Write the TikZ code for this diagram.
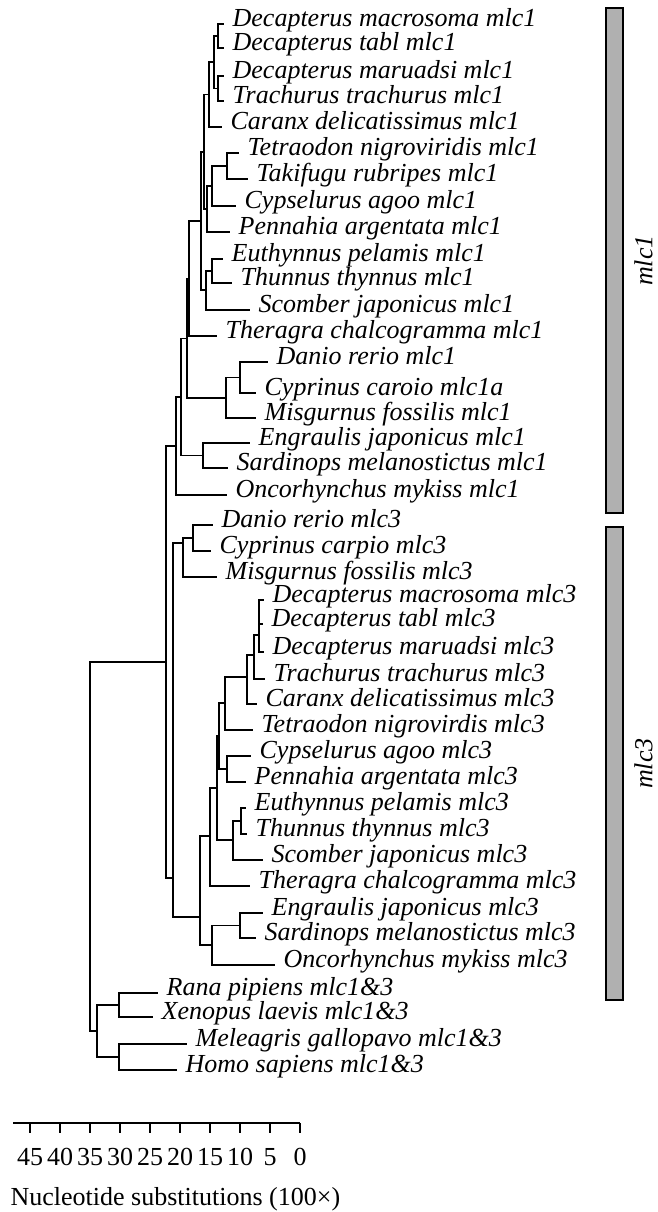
\documentclass[tikz,border=0pt]{standalone}
\usepackage{fontspec}
\setmainfont{Liberation Serif}
\usetikzlibrary{positioning}

\begin{document}
\begin{tikzpicture}[
    x=1pt, y=-1pt,
    line width=1.3pt,
    leaf/.style={anchor=west, inner xsep=8pt, inner ysep=0pt,
                 text height=0.56em, text depth=0pt,
                 font=\fontsize{26}{28}\selectfont\itshape},
    gbar/.style={draw, line width=1.6pt, fill=black!31,
                 minimum width=17pt, inner sep=0pt},
    grp/.style={rotate=90, inner sep=0pt,
                font=\fontsize{26}{28}\selectfont\itshape},
    axl/.style={anchor=base, inner sep=0pt,
                font=\fontsize{26}{28}\selectfont},
  ]
  \useasboundingbox (0,0) rectangle (657,1212);

  % ============ mlc1 leaves ============
  \node[leaf] (m1dmac) at (224,24)  {Decapterus macrosoma mlc1};
  \node[leaf] (m1dtab) at (224,48)  {Decapterus tabl mlc1};
  \node[leaf] (m1dmar) at (224,76)  {Decapterus maruadsi mlc1};
  \node[leaf] (m1ttr)  at (224,101) {Trachurus trachurus mlc1};
  \node[leaf] (m1car)  at (222,127) {Caranx delicatissimus mlc1};
  \node[leaf] (m1tet)  at (239,153) {Tetraodon nigroviridis mlc1};
  \node[leaf] (m1tak)  at (248,179) {Takifugu rubripes mlc1};
  \node[leaf] (m1cyp)  at (236,206) {Cypselurus agoo mlc1};
  \node[leaf] (m1pen)  at (230,232) {Pennahia argentata mlc1};
  \node[leaf] (m1eut)  at (223,259) {Euthynnus pelamis mlc1};
  \node[leaf] (m1thu)  at (232,283) {Thunnus thynnus mlc1};
  \node[leaf] (m1sco)  at (250,310) {Scomber japonicus mlc1};
  \node[leaf] (m1the)  at (217,336) {Theragra chalcogramma mlc1};
  \node[leaf] (m1dan)  at (268,362) {Danio rerio mlc1};
  \node[leaf] (m1cpr)  at (256,393) {Cyprinus caroio mlc1a};
  \node[leaf] (m1mis)  at (256,418) {Misgurnus fossilis mlc1};
  \node[leaf] (m1eng)  at (250,443) {Engraulis japonicus mlc1};
  \node[leaf] (m1sar)  at (228,468) {Sardinops melanostictus mlc1};
  \node[leaf] (m1onc)  at (227,495) {Oncorhynchus mykiss mlc1};

  % ============ mlc3 leaves ============
  \node[leaf] (m3dan)  at (213,525) {Danio rerio mlc3};
  \node[leaf] (m3cpr)  at (211,551) {Cyprinus carpio mlc3};
  \node[leaf] (m3mis)  at (217,577) {Misgurnus fossilis mlc3};
  \node[leaf] (m3dmac) at (264,600) {Decapterus macrosoma mlc3};
  \node[leaf] (m3dtab) at (263,624) {Decapterus tabl mlc3};
  \node[leaf] (m3dmar) at (264,652) {Decapterus maruadsi mlc3};
  \node[leaf] (m3ttr)  at (265,679) {Trachurus trachurus mlc3};
  \node[leaf] (m3car)  at (257,704) {Caranx delicatissimus mlc3};
  \node[leaf] (m3tet)  at (253,730) {Tetraodon nigrovirdis mlc3};
  \node[leaf] (m3cyp)  at (251,756) {Cypselurus agoo mlc3};
  \node[leaf] (m3pen)  at (246,782) {Pennahia argentata mlc3};
  \node[leaf] (m3eut)  at (246,808) {Euthynnus pelamis mlc3};
  \node[leaf] (m3thu)  at (247,834) {Thunnus thynnus mlc3};
  \node[leaf] (m3sco)  at (263,860) {Scomber japonicus mlc3};
  \node[leaf] (m3the)  at (250,886) {Theragra chalcogramma mlc3};
  \node[leaf] (m3eng)  at (263,913) {Engraulis japonicus mlc3};
  \node[leaf] (m3sar)  at (256,938) {Sardinops melanostictus mlc3};
  \node[leaf] (m3onc)  at (275,965) {Oncorhynchus mykiss mlc3};

  % ============ tetrapod leaves ============
  \node[leaf] (rana) at (158,993)  {Rana pipiens mlc1\&3};
  \node[leaf] (xeno) at (153,1017) {Xenopus laevis mlc1\&3};
  \node[leaf] (mele) at (187,1044) {Meleagris gallopavo mlc1\&3};
  \node[leaf] (homo) at (177,1070) {Homo sapiens mlc1\&3};

  % ============ inner nodes ============
  \coordinate (m1n1)  at (218,36);
  \coordinate (m1n2)  at (218,88.5);
  \coordinate (m1n3)  at (214,62);
  \coordinate (m1n4)  at (209,94.5);
  \coordinate (m1n5)  at (227,166);
  \coordinate (m1n6)  at (212,186);
  \coordinate (m1n7)  at (207,209);
  \coordinate (m1n8)  at (204,152);
  \coordinate (m1n9)  at (212,271);
  \coordinate (m1n10) at (206,290);
  \coordinate (m1n11) at (201,221);
  \coordinate (m1n12) at (189,278.5);
  \coordinate (m1n13) at (240,377.5);
  \coordinate (m1n14) at (226,398);
  \coordinate (m1n15) at (187,338.5);
  \coordinate (m1n16) at (203,455.5);
  \coordinate (m1n17) at (181,397);
  \coordinate (m1n18) at (176,446);

  \coordinate (m3n1)  at (193,538);
  \coordinate (m3n2)  at (183,543);
  \coordinate (m3n3)  at (259,635);
  \coordinate (m3n4)  at (254,655);
  \coordinate (m3n5)  at (247,677);
  \coordinate (m3n6)  at (225,703);
  \coordinate (m3n7)  at (227,769);
  \coordinate (m3n8)  at (219,736);
  \coordinate (m3n9)  at (241,821);
  \coordinate (m3n10) at (233,840);
  \coordinate (m3n11) at (217,788);
  \coordinate (m3n12) at (210,836);
  \coordinate (m3n13) at (240,925.5);
  \coordinate (m3n14) at (212,945);
  \coordinate (m3n15) at (200,917);
  \coordinate (m3root) at (173,878);

  \coordinate (fish) at (166,662);
  \coordinate (tet1) at (119,1005);
  \coordinate (tet2) at (119,1057);
  \coordinate (tet)  at (97,1031);
  \coordinate (root) at (90,846);

  % ======== BRANCHES: mlc1 ========
  \draw (m1n1) |- (m1dmac) (m1n1) |- (m1dtab);
  \draw (m1n2) |- (m1dmar) (m1n2) |- (m1ttr);
  \draw (m1n3) |- (m1n1) (m1n3) |- (m1n2);
  \draw (m1n4) |- (m1n3) (m1n4) |- (m1car);
  \draw (m1n5) |- (m1tet) (m1n5) |- (m1tak);
  \draw (m1n6) |- (m1n5) (m1n6) |- (m1cyp);
  \draw (m1n7) |- (m1n6) (m1n7) |- (m1pen);
  \draw (m1n8) |- (m1n4) (m1n8) |- (m1n7);
  \draw (m1n9) |- (m1eut) (m1n9) |- (m1thu);
  \draw (m1n10) |- (m1n9) (m1n10) |- (m1sco);
  \draw (m1n11) |- (m1n8) (m1n11) |- (m1n10);
  \draw (m1n12) |- (m1n11) (m1n12) |- (m1the);
  \draw (m1n13) |- (m1dan) (m1n13) |- (m1cpr);
  \draw (m1n14) |- (m1n13) (m1n14) |- (m1mis);
  \draw (m1n15) |- (m1n12) (m1n15) |- (m1n14);
  \draw (m1n16) |- (m1eng) (m1n16) |- (m1sar);
  \draw (m1n17) |- (m1n15) (m1n17) |- (m1n16);
  \draw (m1n18) |- (m1n17) (m1n18) |- (m1onc);

  % ======== BRANCHES: mlc3 ========
  \draw (m3n1) |- (m3dan) (m3n1) |- (m3cpr);
  \draw (m3n2) |- (m3n1) (m3n2) |- (m3mis);
  \draw (m3n3) |- (m3dmac) (m3n3) |- (m3dtab) (m3n3) |- (m3dmar);
  \draw (m3n4) |- (m3n3) (m3n4) |- (m3ttr);
  \draw (m3n5) |- (m3n4) (m3n5) |- (m3car);
  \draw (m3n6) |- (m3n5) (m3n6) |- (m3tet);
  \draw (m3n7) |- (m3cyp) (m3n7) |- (m3pen);
  \draw (m3n8) |- (m3n6) (m3n8) |- (m3n7);
  \draw (m3n9) |- (m3eut) (m3n9) |- (m3thu);
  \draw (m3n10) |- (m3n9) (m3n10) |- (m3sco);
  \draw (m3n11) |- (m3n8) (m3n11) |- (m3n10);
  \draw (m3n12) |- (m3n11) (m3n12) |- (m3the);
  \draw (m3n13) |- (m3eng) (m3n13) |- (m3sar);
  \draw (m3n14) |- (m3n13) (m3n14) |- (m3onc);
  \draw (m3n15) |- (m3n12) (m3n15) |- (m3n14);
  \draw (m3root) |- (m3n2) (m3root) |- (m3n15);

  % ======== BRANCHES: root ========
  \draw (fish) |- (m1n18) (fish) |- (m3root);
  \draw (tet1) |- (rana) (tet1) |- (xeno);
  \draw (tet2) |- (mele) (tet2) |- (homo);
  \draw (tet) |- (tet1) (tet) |- (tet2);
  \draw (root) |- (fish) (root) |- (tet);

  % ============ group bars ============
  \node[gbar, minimum height=505pt] (bar1) at (614.5,260.5) {};
  \node[gbar, minimum height=473pt] (bar2) at (614.5,763.5) {};
  \node[grp] (lab1) at ([xshift=29pt]bar1.center) {mlc1};
  \node[grp] (lab3) at ([xshift=29pt]bar2.center) {mlc3};

  % ============ scale ============
  \draw (13,1123) -- (300,1123);
  \foreach \v in {45,40,...,0} {
    \draw (300-6*\v,1123) -- (300-6*\v,1133);
    \node[axl] at (300-6*\v,1165) {\v};
  }
  \node[axl, anchor=base west] (axtitle) at (10,1205)
    {Nucleotide substitutions (100×)};

\end{tikzpicture}
\end{document}
